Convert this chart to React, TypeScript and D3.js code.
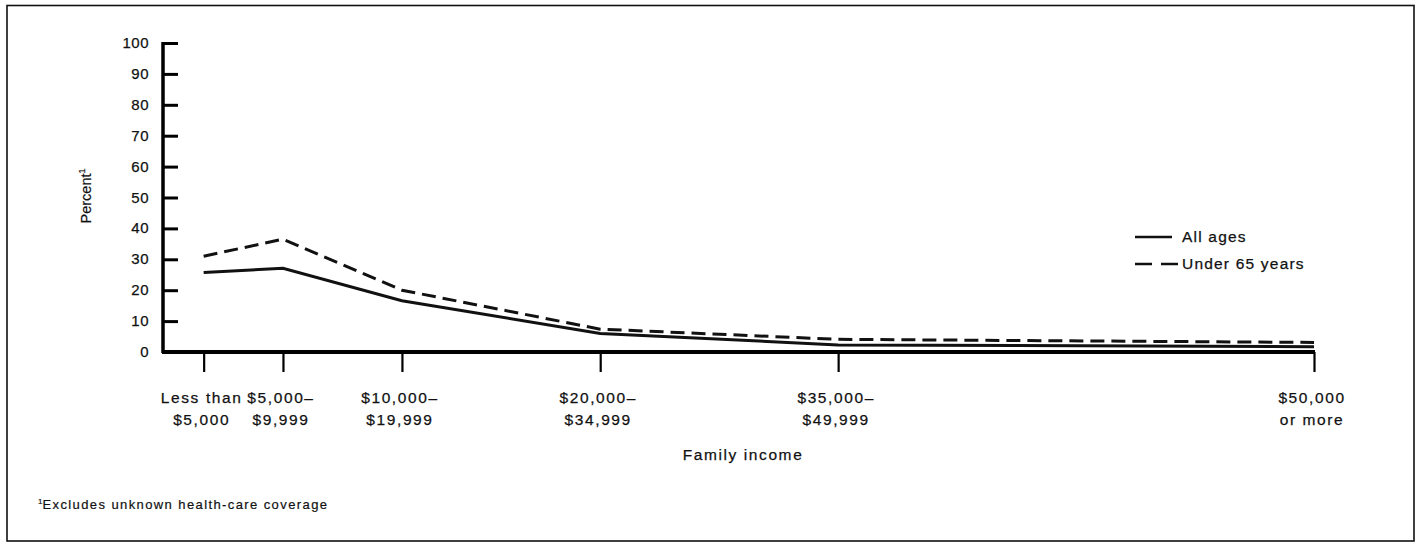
import * as d3 from "d3";
import { useRef, useEffect } from "react";

// income brackets, placed at their midpoints (thousands of dollars)
const categoryMid = [2.5, 7.5, 15, 27.5, 42.5, 72.5];
const categoryLine1 = ["Less than", "$5,000–", "$10,000–", "$20,000–", "$35,000–", "$50,000"];
const categoryLine2 = ["$5,000", "$9,999", "$19,999", "$34,999", "$49,999", "or more"];

const allAges = [25.7, 27.1, 16.6, 6.0, 2.3, 1.7];
const under65 = [31.0, 36.5, 20.0, 7.4, 4.1, 3.1];

const yTicks = [0, 10, 20, 30, 40, 50, 60, 70, 80, 90, 100];
const seriesNames = ["All ages", "Under 65 years"];

export default function App() {
  const width = 1416;
  const height = 544;
  const marginLeft = 163;
  const marginRight = 102;
  const marginTop = 43;
  const yZero = 352;
  const font = "'Liberation Sans', Arial, Helvetica, sans-serif";

  const ref = useRef<SVGSVGElement>(null);

  useEffect((): void => {
    if (!ref.current) return;
    const svg = d3.select(ref.current);
    svg.selectAll("*").remove();

    const x = d3
      .scaleLinear()
      .domain([0, d3.max(categoryMid) as number])
      .range([marginLeft + 1, width - marginRight]);

    const y = d3.scaleLinear().domain([0, 100]).range([yZero, marginTop]);

    // outer frame
    svg
      .append("rect")
      .attr("x", 7)
      .attr("y", 5.5)
      .attr("width", 1407)
      .attr("height", 535.5)
      .attr("fill", "none")
      .attr("stroke", "#111")
      .attr("stroke-width", 1.6);

    // y axis, ticks pointing inward
    const yAxis = d3
      .axisRight(y)
      .tickValues(yTicks)
      .tickSize(15)
      .tickSizeOuter(0)
      .tickFormat(() => "");

    svg
      .append("g")
      .attr("transform", `translate(${marginLeft}, 0)`)
      .call(yAxis)
      .call((g) => g.select(".domain").attr("stroke-width", 3.5).attr("d", `M0,${y(100) - 1}V${yZero + 1}`))
      .call((g) => g.selectAll(".tick line").attr("stroke-width", 3));

    svg
      .append("g")
      .selectAll("text")
      .data(yTicks)
      .join("text")
      .attr("x", 149)
      .attr("y", (d) => y(d) + 5)
      .attr("text-anchor", "end")
      .attr("font-family", font)
      .attr("font-size", 15)
      .attr("letter-spacing", 0.5)
      .attr("fill", "#111")
      .attr("stroke", "#111")
      .attr("stroke-width", 0.25)
      .text((d) => d);

    // x axis with ticks downward
    const xAxis = d3
      .axisBottom(x)
      .tickValues(categoryMid)
      .tickSize(20)
      .tickSizeOuter(0)
      .tickFormat(() => "");

    svg
      .append("g")
      .attr("transform", `translate(0, ${yZero})`)
      .call(xAxis)
      .call((g) => g.select(".domain").attr("stroke-width", 4).attr("d", `M${marginLeft - 1},0H${x(72.5) + 1}`))
      .call((g) => g.selectAll(".tick line").attr("stroke-width", 2.2));

    const labels = svg
      .append("g")
      .attr("font-family", font)
      .attr("font-size", 15.5)
      .attr("letter-spacing", 1.6)
      .attr("fill", "#111")
      .attr("stroke", "#111")
      .attr("stroke-width", 0.25);
    labels
      .selectAll("text.l1")
      .data(categoryMid)
      .join("text")
      .attr("class", "l1")
      .attr("x", (d) => x(d) - 2)
      .attr("y", 403)
      .attr("text-anchor", "middle")
      .text((_, i) => categoryLine1[i]);
    labels
      .selectAll("text.l2")
      .data(categoryMid)
      .join("text")
      .attr("class", "l2")
      .attr("x", (d) => x(d) - 2)
      .attr("y", 425)
      .attr("text-anchor", "middle")
      .text((_, i) => categoryLine2[i]);

    labels
      .append("text")
      .attr("x", (x(0) + x(72.5)) / 2 + 4)
      .attr("y", 460)
      .attr("text-anchor", "middle")
      .text("Family income");

    // y title
    const yTitle = svg
      .append("text")
      .attr("transform", `translate(91, 196) rotate(-90)`)
      .attr("text-anchor", "middle")
      .attr("font-family", font)
      .attr("font-size", 14.5)
      .attr("fill", "#111")
      .attr("stroke", "#111")
      .attr("stroke-width", 0.2);
    yTitle.append("tspan").text("Percent");
    yTitle.append("tspan").attr("font-size", 9).attr("dy", -6).text("1");

    // lines
    const line = d3
      .line<number>()
      .x((_, i) => x(categoryMid[i]))
      .y((d) => y(d));

    svg
      .append("path")
      .datum(allAges)
      .attr("d", line)
      .attr("fill", "none")
      .attr("stroke", "#111")
      .attr("stroke-width", 3);

    svg
      .append("path")
      .datum(under65)
      .attr("d", line)
      .attr("fill", "none")
      .attr("stroke", "#111")
      .attr("stroke-width", 3)
      .attr("stroke-dasharray", "14,7");

    // legend
    const legend = svg.append("g").attr("transform", "translate(1135, 237)");
    seriesNames.forEach((name, i) => {
      legend
        .append("line")
        .attr("x1", 0)
        .attr("x2", i === 0 ? 37 : 43)
        .attr("y1", i * 27)
        .attr("y2", i * 27)
        .attr("stroke", "#111")
        .attr("stroke-width", 2.5)
        .attr("stroke-dasharray", i === 0 ? null : "17,9");
      legend
        .append("text")
        .attr("x", 47)
        .attr("y", i * 27 + 5)
        .attr("font-family", font)
        .attr("font-size", 15.5)
        .attr("letter-spacing", 1.2)
        .attr("fill", "#111")
        .attr("stroke", "#111")
        .attr("stroke-width", 0.25)
        .text(name);
    });

    // footnote
    const note = svg
      .append("text")
      .attr("x", 38)
      .attr("y", 509)
      .attr("font-family", font)
      .attr("font-size", 13)
      .attr("letter-spacing", 1.4)
      .attr("fill", "#111")
      .attr("stroke", "#111")
      .attr("stroke-width", 0.2);
    note.append("tspan").attr("font-size", 8).attr("dy", -5).attr("letter-spacing", 0).text("1");
    note.append("tspan").attr("dy", 5).text("Excludes unknown health-care coverage");
  }, []);

  return (
    <svg
      ref={ref}
      width={width}
      height={height}
      style={{ position: "absolute", left: 0, top: 0, background: "#fff" }}
    />
  );
}
